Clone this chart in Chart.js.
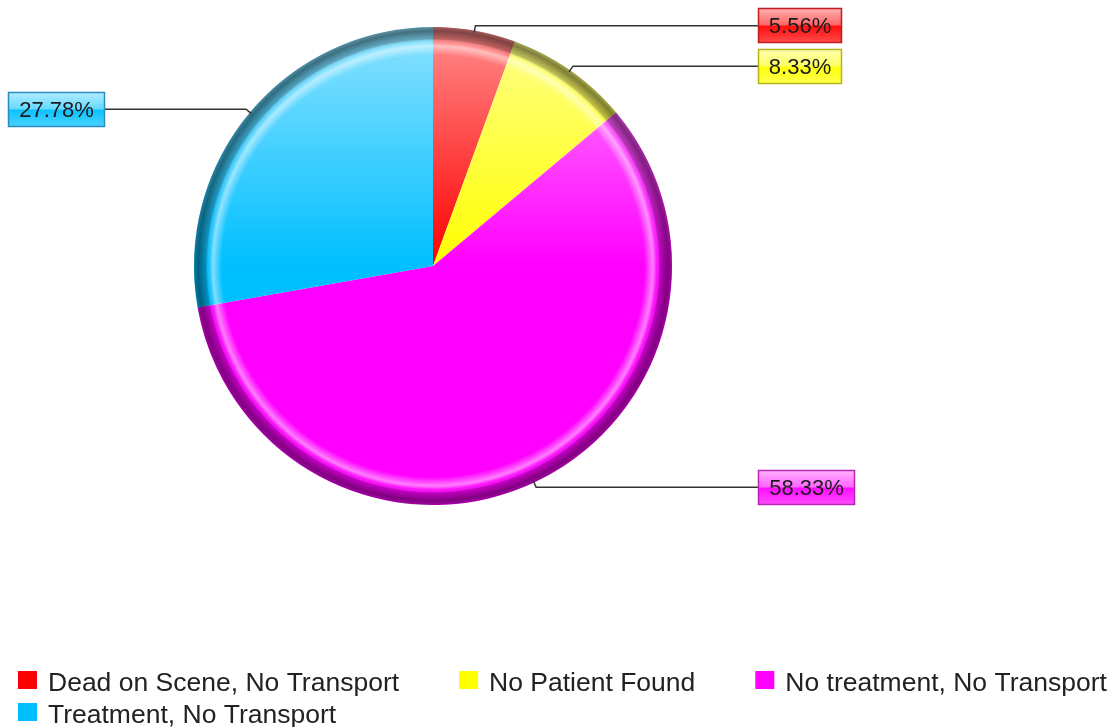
<!DOCTYPE html>
<html lang="en">
<head>
    <meta charset="UTF-8">
    <title>Transport outcome</title>
    <script src="https://cdn.jsdelivr.net/npm/chart.js"></script>
    <style>
        html, body {
            margin: 0;
            padding: 0;
            background: #ffffff;
            overflow: hidden;
        }
        #wrap {
            width: 1113px;
            height: 727px;
        }
    </style>
</head>
<body>
    <div id="wrap">
        <canvas id="pieChart" width="1113" height="727"></canvas>
    </div>

    <script>
        // data (percent of calls)
        const categories = ['Dead on Scene, No Transport', 'No Patient Found', 'No treatment, No Transport', 'Treatment, No Transport'];
        const shares = [5.56, 8.33, 58.33, 27.78];

        // slice colours as rgb
        const sliceRgb = [[255, 0, 0], [255, 255, 0], [255, 0, 255], [0, 191, 255]];
        const borderRgb = [[190, 30, 30], [180, 180, 20], [180, 40, 180], [40, 140, 190]];

        const FONT = '"Liberation Sans", Arial, sans-serif';

        function rgb(c) { return 'rgb(' + c[0] + ',' + c[1] + ',' + c[2] + ')'; }
        function lighten(c, t) {
            return rgb(c.map(v => Math.round(v + (255 - v) * t)));
        }

        // vertical shine on every slice, lighter at the top of the pie
        function sliceFill(context) {
            const chart = context.chart;
            const area = chart.chartArea;
            const base = sliceRgb[context.dataIndex];
            if (!area) return rgb(base);
            const g = chart.ctx.createLinearGradient(0, area.top, 0, (area.top + area.bottom) / 2);
            g.addColorStop(0, lighten(base, 0.55));
            g.addColorStop(1, rgb(base));
            return g;
        }

        // dark rim + light ring, gives the bevelled look
        const bevelPlugin = {
            id: 'bevel',
            afterDatasetsDraw(chart) {
                const arc = chart.getDatasetMeta(0).data[0];
                if (!arc) return;
                const { x, y, outerRadius } = arc.getProps(['x', 'y', 'outerRadius'], true);
                const r = outerRadius;
                const ctx = chart.ctx;
                const g = ctx.createRadialGradient(x, y, 0, x, y, r);
                g.addColorStop(0, 'rgba(255,255,255,0)');
                g.addColorStop((r - 28) / r, 'rgba(255,255,255,0)');
                g.addColorStop((r - 19) / r, 'rgba(255,255,255,0.5)');
                g.addColorStop((r - 15) / r, 'rgba(255,255,255,0.05)');
                g.addColorStop((r - 12) / r, 'rgba(0,0,0,0.25)');
                g.addColorStop((r - 4) / r, 'rgba(0,0,0,0.5)');
                g.addColorStop(1, 'rgba(0,0,0,0.35)');
                ctx.save();
                ctx.beginPath();
                ctx.arc(x, y, r, 0, Math.PI * 2);
                ctx.fillStyle = g;
                ctx.fill();
                ctx.restore();
            }
        };

        // percentage boxes with leader lines
        const calloutPlugin = {
            id: 'callouts',
            afterDraw(chart) {
                const ctx = chart.ctx;
                const meta = chart.getDatasetMeta(0);
                ctx.save();
                ctx.font = '22px ' + FONT;
                meta.data.forEach((arc, i) => {
                    const p = arc.getProps(['x', 'y', 'startAngle', 'endAngle', 'outerRadius'], true);
                    const mid = (p.startAngle + p.endAngle) / 2;
                    const r = p.outerRadius;
                    const sx = p.x + Math.cos(mid) * (r - 2);
                    const sy = p.y + Math.sin(mid) * (r - 2);
                    const ex = p.x + Math.cos(mid) * (r + 5);
                    const ey = p.y + Math.sin(mid) * (r + 5);
                    const right = Math.cos(mid) >= 0;

                    const text = shares[i].toFixed(2) + '%';
                    const tw = ctx.measureText(text).width;
                    const bw = Math.round(tw + 22);
                    const bh = 35;
                    const bx = right ? p.x + r + 86 : p.x - r - 89 - bw;
                    const by = Math.round(ey - bh / 2);

                    ctx.strokeStyle = '#333';
                    ctx.lineWidth = 1.5;
                    ctx.beginPath();
                    ctx.moveTo(sx, sy);
                    ctx.lineTo(ex, ey);
                    ctx.lineTo(right ? bx : bx + bw, ey);
                    ctx.stroke();

                    const base = sliceRgb[i];
                    const g = ctx.createLinearGradient(0, by, 0, by + bh);
                    g.addColorStop(0, lighten(base, 0.7));
                    g.addColorStop(0.48, lighten(base, 0.4));
                    g.addColorStop(0.52, lighten(base, 0.05));
                    g.addColorStop(1, lighten(base, 0.3));
                    ctx.fillStyle = g;
                    ctx.fillRect(bx, by, bw, bh);
                    ctx.strokeStyle = rgb(borderRgb[i]);
                    ctx.lineWidth = 1.5;
                    ctx.strokeRect(bx + 0.5, by + 0.5, bw - 1, bh - 1);

                    ctx.fillStyle = '#1a1a1a';
                    ctx.textAlign = 'center';
                    ctx.textBaseline = 'middle';
                    ctx.fillText(text, bx + bw / 2, by + bh / 2 + 1);
                });
                ctx.restore();
            }
        };

        // legend, left aligned and flowing onto a second row
        const legendPlugin = {
            id: 'flowLegend',
            afterDraw(chart) {
                const ctx = chart.ctx;
                ctx.save();
                ctx.font = '26.5px ' + FONT;
                ctx.textAlign = 'left';
                ctx.textBaseline = 'alphabetic';
                let x = 18;
                let row = 0;
                categories.forEach((name, i) => {
                    const w = 30 + ctx.measureText(name).width;
                    if (x + w > chart.width) {
                        x = 18;
                        row++;
                    }
                    const top = 671 + row * 32;
                    ctx.fillStyle = rgb(sliceRgb[i]);
                    ctx.fillRect(x, top, 19, 18);
                    ctx.fillStyle = '#222';
                    ctx.fillText(name, x + 30, top + 20);
                    x += w + 60;
                });
                ctx.restore();
            }
        };

        const ctx = document.getElementById('pieChart').getContext('2d');
        const pieChart = new Chart(ctx, {
            type: 'pie',
            data: {
                labels: categories,
                datasets: [{
                    data: shares,
                    backgroundColor: sliceFill,
                    borderWidth: 0
                }]
            },
            options: {
                responsive: false,
                animation: false,
                layout: {
                    padding: { left: 194, right: 441, top: 27, bottom: 222 }
                },
                plugins: {
                    legend: { display: false },
                    tooltip: { enabled: false }
                }
            },
            plugins: [bevelPlugin, calloutPlugin, legendPlugin]
        });
    </script>
</body>
</html>
